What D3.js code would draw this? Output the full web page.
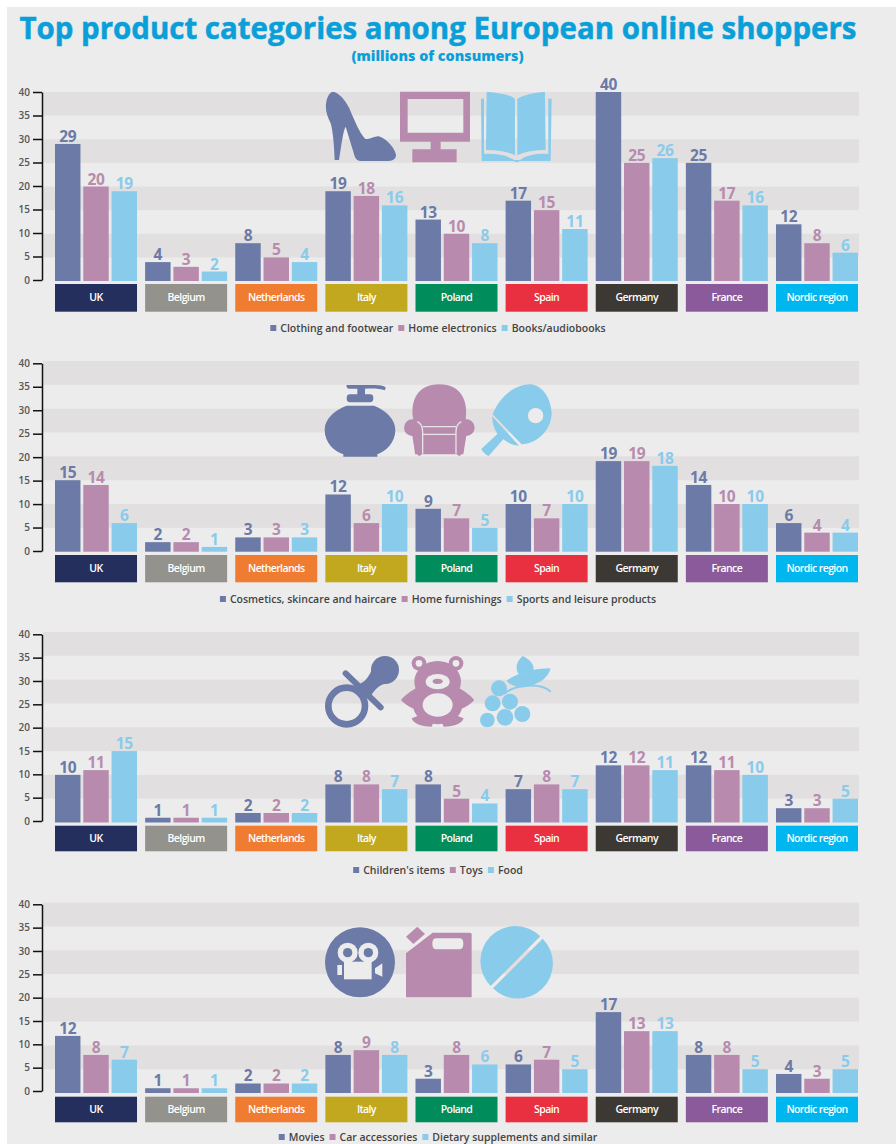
<!DOCTYPE html>
<html>
<head>
<meta charset="utf-8">
<script src="https://cdn.jsdelivr.net/npm/d3@7"></script>
<style>
  html, body { margin: 0; padding: 0; background: #fff; }
  svg { display: block; }
  text { font-family: "Open Sans", sans-serif; }
</style>
</head>
<body>
<div class="container"></div>
<script>
const WIDTH = 896;
const HEIGHT = 1144;

const countries = ['UK', 'Belgium', 'Netherlands', 'Italy', 'Poland', 'Spain', 'Germany', 'France', 'Nordic region'];
const countryColors = ['#252f5e', '#94928d', '#ef7c30', '#c1a81f', '#008d5b', '#e83040', '#3c3833', '#8a5a9a', '#00b6ef'];
const yTicks = [0, 5, 10, 15, 20, 25, 30, 35, 40];
const seriesColors = ['#6b7aa6', '#b88bae', '#89cbeb'];

const legend1 = ['Clothing and footwear', 'Home electronics', 'Books/audiobooks'];
const clothing = [29, 4, 8, 19, 13, 17, 40, 25, 12];
const electronics = [20, 3, 5, 18, 10, 15, 25, 17, 8];
const books = [19, 2, 4, 16, 8, 11, 26, 16, 6];

const legend2 = ['Cosmetics, skincare and haircare', 'Home furnishings', 'Sports and leisure products'];
const cosmetics = [15, 2, 3, 12, 9, 10, 19, 14, 6];
const furnishings = [14, 2, 3, 6, 7, 7, 19, 10, 4];
const sports = [6, 1, 3, 10, 5, 10, 18, 10, 4];

const legend3 = ["Children's items", 'Toys', 'Food'];
const childrens = [10, 1, 2, 8, 8, 7, 12, 12, 3];
const toys = [11, 1, 2, 8, 5, 8, 12, 11, 3];
const food = [15, 1, 2, 7, 4, 7, 11, 10, 5];

const legend4 = ['Movies', 'Car accessories', 'Dietary supplements and similar'];
const movies = [12, 1, 2, 8, 3, 6, 17, 8, 4];
const car = [8, 1, 2, 9, 8, 7, 13, 8, 3];
const dietary = [7, 1, 2, 8, 6, 5, 13, 5, 5];

// the axis sits a little off the bars and bands in the original, so it has its own range
const panels = [
  { top: 92, bottom: 281, axisTop: 92, axisBottom: 280, labelTop: 284, labelBottom: 311.7, legendY: 332, legend: legend1, series: [clothing, electronics, books], icons: drawIcons1, iconY: 80 },
  { top: 361, bottom: 551.7, axisTop: 363.3, axisBottom: 551, labelTop: 555, labelBottom: 582.3, legendY: 603, legend: legend2, series: [cosmetics, furnishings, sports], icons: drawIcons2, iconY: 375 },
  { top: 632, bottom: 822.5, axisTop: 634.3, axisBottom: 821, labelTop: 825.7, labelBottom: 851.3, legendY: 874, legend: legend3, series: [childrens, toys, food], icons: drawIcons3, iconY: 650 },
  { top: 902.7, bottom: 1093, axisTop: 904.3, axisBottom: 1091, labelTop: 1096.7, labelBottom: 1122.3, legendY: 1141, legend: legend4, series: [movies, car, dietary], icons: drawIcons4, iconY: 920 }
];

var svg = d3.select('.container').append('svg')
  .attr('width', WIDTH)
  .attr('height', HEIGHT);

svg.append('rect')
  .attr('x', 7).attr('y', 7)
  .attr('width', WIDTH - 7).attr('height', HEIGHT - 7)
  .attr('fill', '#ececec');

// thin stroke of the same colour to get the heavy weight of the original
svg.append('text')
  .attr('x', 438).attr('y', 39)
  .attr('text-anchor', 'middle')
  .attr('font-size', 29.5)
  .attr('font-weight', 700)
  .attr('fill', '#0a9fd8')
  .attr('stroke', '#0a9fd8')
  .attr('stroke-width', 0.5)
  .attr('textLength', 837)
  .attr('lengthAdjust', 'spacingAndGlyphs')
  .text('Top product categories among European online shoppers');

svg.append('text')
  .attr('x', 437.5).attr('y', 61)
  .attr('text-anchor', 'middle')
  .attr('font-size', 14.3)
  .attr('font-weight', 800)
  .attr('fill', '#0a9fd8')
  .text('(millions of consumers)');

var x0 = d3.scaleBand().domain(countries).range([55, 858]).paddingInner(0.09);
var x1 = d3.scaleBand().domain([0, 1, 2]).range([0, x0.bandwidth()]).paddingInner(0.1);

panels.forEach(function (p) {
  var y = d3.scaleLinear().domain([0, 40]).range([p.bottom, p.top]);
  var yAxis = d3.scaleLinear().domain([0, 40]).range([p.axisBottom, p.axisTop]);
  var g = svg.append('g');

  // alternating darker bands behind the bars
  g.selectAll('.band')
    .data(d3.range(40, 0, -10))
    .enter().append('rect')
    .attr('x', 43)
    .attr('width', 816)
    .attr('y', function (d) { return y(d); })
    .attr('height', function (d) { return y(d - 5) - y(d); })
    .attr('fill', '#e2dfe0');

  var axis = d3.axisLeft(yAxis).tickValues(yTicks).tickSize(9).tickSizeOuter(0).tickPadding(3);
  var ax = g.append('g')
    .attr('transform', 'translate(42,0)')
    .call(axis);
  ax.select('.domain').attr('stroke', '#111').attr('stroke-width', 1.5);
  ax.selectAll('.tick line').attr('stroke', '#111').attr('stroke-width', 1.5);
  ax.selectAll('.tick text')
    .attr('font-family', '"Open Sans", sans-serif')
    .attr('font-size', 10)
    .attr('font-weight', 600)
    .attr('fill', '#555');

  p.icons(g.append('g').attr('transform', 'translate(300,' + p.iconY + ') scale(0.3333)'));

  p.series.forEach(function (values, s) {
    g.selectAll('.bar' + s)
      .data(values)
      .enter().append('rect')
      .attr('x', function (d, i) { return x0(countries[i]) + x1(s); })
      .attr('width', x1.bandwidth())
      .attr('y', function (d) { return y(d); })
      .attr('height', function (d) { return p.bottom - y(d); })
      .attr('fill', seriesColors[s]);

    g.selectAll('.val' + s)
      .data(values)
      .enter().append('text')
      .attr('x', function (d, i) { return x0(countries[i]) + x1(s) + x1.bandwidth() / 2; })
      .attr('y', function (d) { return y(d) - 2; })
      .attr('text-anchor', 'middle')
      .attr('font-size', 15.5)
      .attr('font-weight', 700)
      .attr('letter-spacing', -0.3)
      .attr('fill', seriesColors[s])
      .text(function (d) { return d; });
  });

  g.selectAll('.country')
    .data(countries)
    .enter().append('rect')
    .attr('x', function (d) { return x0(d); })
    .attr('width', x0.bandwidth())
    .attr('y', p.labelTop)
    .attr('height', p.labelBottom - p.labelTop)
    .attr('fill', function (d, i) { return countryColors[i]; });

  g.selectAll('.countryLabel')
    .data(countries)
    .enter().append('text')
    .attr('x', function (d) { return x0(d) + x0.bandwidth() / 2; })
    .attr('y', (p.labelTop + p.labelBottom) / 2 + 3.5)
    .attr('text-anchor', 'middle')
    .attr('font-size', 10.5)
    .attr('font-weight', 600)
    .attr('letter-spacing', -0.6)
    .attr('fill', '#fff')
    .text(function (d) { return d; });

  // legend is laid out from measured text widths, then centred
  var lg = g.append('g');
  var cursor = 0;
  p.legend.forEach(function (name, s) {
    lg.append('rect')
      .attr('x', cursor).attr('y', p.legendY - 7)
      .attr('width', 6).attr('height', 6)
      .attr('fill', seriesColors[s]);
    var t = lg.append('text')
      .attr('x', cursor + 10).attr('y', p.legendY)
      .attr('font-size', 10.5)
      .attr('font-weight', 600)
      .attr('fill', '#444')
      .text(name);
    cursor += 10 + t.node().getComputedTextLength() + 5;
  });
  lg.attr('transform', 'translate(' + (438 - (cursor - 5) / 2) + ',0)');
});

// Pictograms, drawn in a 3x coordinate space
function path(g, d, fill, rule) {
  return g.append('path').attr('d', d).attr('fill', fill).attr('fill-rule', rule || 'nonzero');
}
function stroke(g, d, color, w) {
  return g.append('path').attr('d', d).attr('fill', 'none').attr('stroke', color).attr('stroke-width', w);
}
function circle(g, cx, cy, r, fill) {
  return g.append('circle').attr('cx', cx).attr('cy', cy).attr('r', r).attr('fill', fill);
}
function ellipse(g, cx, cy, rx, ry, fill) {
  return g.append('ellipse').attr('cx', cx).attr('cy', cy).attr('rx', rx).attr('ry', ry).attr('fill', fill);
}

function drawIcons1(g) {
  path(g, 'M100,35 C118,40 135,58 148,85 C165,125 178,158 195,176 C210,182 225,165 240,170 C262,178 285,205 288,225 C288,240 275,243 260,243 L185,243 C170,243 165,235 160,215 L137,140 C130,150 125,190 117,240 L104,240 C102,190 98,150 92,130 C80,105 74,85 80,60 C84,45 92,35 100,35 Z', seriesColors[0]);
  path(g, 'M300,35 H510 V185 H422 V208 H470 V247 H337 V208 H392 V185 H300 Z M323,57 V158 H490 V57 Z', seriesColors[1], 'evenodd');
  var b = seriesColors[2];
  path(g, 'M560,35 C600,38 630,45 645,56 V226 C625,215 590,210 558,210 Z', b);
  path(g, 'M652,56 C670,45 700,38 735,35 L737,210 C705,210 672,215 652,226 Z', b);
  path(g, 'M543,56 H552 V222 C585,220 620,225 643,240 H660 C680,225 715,220 745,222 V56 H755 L752,243 H660 L650,247 L640,243 H545 Z', b);
}

function drawIcons2(g) {
  var a = seriesColors[0], c = seriesColors[1], e = seriesColors[2];
  path(g, 'M140,30 H225 C240,30 250,32 257,37 L255,46 C240,41 225,40 195,41 V58 H210 C218,58 220,62 220,70 C220,78 217,82 210,82 H150 C143,82 140,78 140,70 C140,62 143,58 150,58 H172 V41 H145 C139,38 139,33 140,30 Z', a);
  path(g, 'M140,92 H222 C255,105 286,130 286,165 C286,205 255,230 232,238 V245 H130 V238 C105,230 74,205 74,165 C74,130 105,105 140,92 Z', a);

  path(g, 'M340,135 C330,80 350,28 418,28 C485,28 505,80 497,135 L490,238 H345 Z', c);
  circle(g, 337, 158, 25, c);
  circle(g, 499, 158, 25, c);
  path(g, 'M335,170 L345,232 L358,244 L372,232 V160 H335 Z', c);
  path(g, 'M501,170 L491,232 L478,244 L464,232 V160 H501 Z', c);
  stroke(g, 'M352,140 C362,145 368,155 368,170 V236', '#e6e4e4', 4);
  stroke(g, 'M484,140 C474,145 468,155 468,170 V236', '#e6e4e4', 4);
  stroke(g, 'M368,155 H468 M368,178 H468', '#e6e4e4', 4);

  path(g, 'M578,118 C600,60 650,28 690,28 C730,30 755,75 755,120 C750,170 710,205 665,208 Z', e);
  path(g, 'M577,124 L657,212 C640,210 625,205 610,193 L566,243 C558,240 548,232 544,222 L592,177 C582,160 576,142 577,124 Z', e);
  circle(g, 707, 122, 23, '#ececec');
}

function drawIcons3(g) {
  var a = seriesColors[0], c = seriesColors[1], e = seriesColors[2];
  g.append('circle').attr('cx', 140).attr('cy', 168).attr('r', 55)
    .attr('fill', 'none').attr('stroke', a).attr('stroke-width', 20);
  g.append('line').attr('x1', 137).attr('y1', 70).attr('x2', 242).attr('y2', 172)
    .attr('stroke', a).attr('stroke-width', 18).attr('stroke-linecap', 'round');
  circle(g, 255, 60, 42, a);
  path(g, 'M170,105 C190,100 205,85 215,60 L265,100 C245,100 225,115 212,140 Z', a);

  circle(g, 357, 40, 22, c); circle(g, 468, 40, 22, c);
  circle(g, 357, 40, 10, '#ececec'); circle(g, 468, 40, 10, '#ececec');
  ellipse(g, 413, 95, 70, 62, c);
  ellipse(g, 413, 165, 74, 58, c);
  path(g, 'M355,110 C330,125 315,135 303,150 C320,170 345,178 365,185 Z', c);
  path(g, 'M471,110 C496,125 511,135 523,150 C506,170 481,178 461,185 Z', c);
  path(g, 'M375,190 L335,205 C340,220 360,230 395,230 L405,205 Z', c);
  path(g, 'M451,190 L491,205 C486,220 466,230 431,230 L421,205 Z', c);
  ellipse(g, 413, 95, 36, 23, '#ececec');
  ellipse(g, 413, 94, 15, 8, c);
  ellipse(g, 413, 165, 45, 35, '#ececec');

  circle(g, 597, 115, 24, e); circle(g, 578, 160, 24, e); circle(g, 630, 155, 24, e);
  circle(g, 615, 202, 25, e); circle(g, 667, 192, 24, e); circle(g, 562, 210, 22, e);
  stroke(g, 'M612,132 C640,105 720,95 752,125', e, 6);
  path(g, 'M620,92 C650,70 700,55 752,55 C745,85 715,105 670,112 C650,112 630,105 620,92 Z', e);
  path(g, 'M655,72 C645,50 650,35 668,18 C690,28 705,45 700,62 C685,65 670,68 655,72 Z', e);
}

function drawIcons4(g) {
  var a = seriesColors[0], c = seriesColors[1], e = seriesColors[2];
  circle(g, 180, 127, 105, a);
  circle(g, 143, 98, 30, '#ececec'); circle(g, 205, 98, 30, '#ececec');
  circle(g, 143, 98, 14, a); circle(g, 205, 98, 14, a);
  path(g, 'M132,125 H215 V178 H132 Z', '#ececec');
  path(g, 'M225,145 L247,130 V170 L225,160 Z', '#ececec');
  path(g, 'M112,135 H126 V165 H112 Z', '#ececec');

  path(g, 'M398,38 H510 Q515,38 515,43 V232 H318 V100 Z M409,55 Q397,55 397,71 Q397,88 409,88 H478 Q490,88 490,71 Q490,55 478,55 Z', c, 'evenodd');
  path(g, 'M318,50 L352,20 L375,42 L340,72 Z', c);

  path(g, 'M572,198 A105,105 0 0 1 721,49 Z', e);
  path(g, 'M728,56 A105,105 0 0 1 579,205 Z', e);
}
</script>
</body>
</html>
